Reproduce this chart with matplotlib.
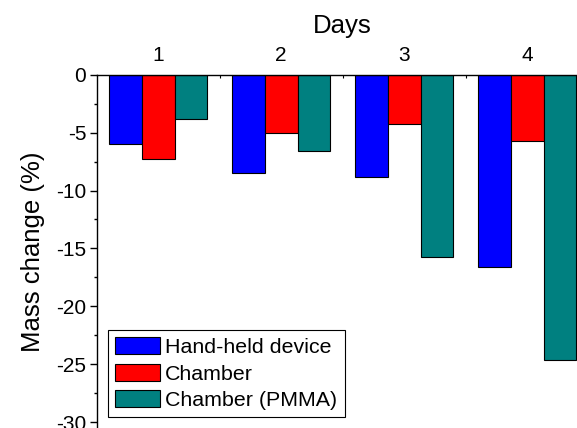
import numpy as np
from matplotlib import pyplot as plt

plt.rcParams['font.family'] = ['Liberation Sans', 'DejaVu Sans']
plt.rcParams['axes.unicode_minus'] = False  # 负号用短横线

# 数据
days = [1, 2, 3, 4]
hand_held = [-6.0, -8.45, -8.85, -16.6]
chamber = [-7.25, -5.0, -4.25, -5.75]
chamber_pmma = [-3.85, -6.55, -15.75, -24.65]
series_names = ['Hand-held device', 'Chamber', 'Chamber (PMMA)']
colors = ['#0000ff', '#ff0000', '#008080']

fig = plt.figure(figsize=(5.77, 4.28), dpi=100)
ax = fig.add_axes([0.1676, 0.0, 0.8527, 0.8255])

x = np.array(days)
w = 0.266  # 柱宽
for k, vals in enumerate([hand_held, chamber, chamber_pmma]):
    ax.bar(x + (k - 1) * w, vals, width=w, color=colors[k], edgecolor='black',
           linewidth=0.8, label=series_names[k], zorder=2)

ax.set_xlim(0.5, 4.5)
ax.set_ylim(-30.5, 0)

# x 轴放在上面
ax.xaxis.tick_top()
ax.xaxis.set_label_position('top')
ax.set_xticks(days)
ax.set_xticks([1.5, 2.5, 3.5], minor=True)
ax.set_xlabel('Days', fontsize=18.5, labelpad=9)

ax.set_yticks(np.arange(-30, 1, 5))
ax.set_yticks(np.arange(-27.5, 0, 5), minor=True)
ax.set_ylabel('Mass change (%)', fontsize=18.5, labelpad=8)

ax.tick_params(axis='x', which='major', direction='in', length=4.5, width=1, labelsize=15, pad=7)
ax.tick_params(axis='x', which='minor', direction='in', length=2, width=0.8)
ax.tick_params(axis='y', which='major', direction='out', length=5, width=1, labelsize=15, pad=2.5)
ax.tick_params(axis='y', which='minor', direction='out', length=2, width=1)

ax.spines['bottom'].set_visible(False)
ax.spines['right'].set_visible(False)
ax.spines['top'].set_linewidth(1)
ax.spines['left'].set_linewidth(1)

leg = ax.legend(loc='lower left', bbox_to_anchor=(0.022, 0.03), fontsize=15.4,
                frameon=True, fancybox=False, framealpha=1, edgecolor='black',
                handlelength=2.1, handleheight=0.85, handletextpad=0.25,
                labelspacing=0.3, borderpad=0.35, borderaxespad=0)
leg.get_frame().set_linewidth(0.8)

plt.savefig('out.png', dpi=100)
